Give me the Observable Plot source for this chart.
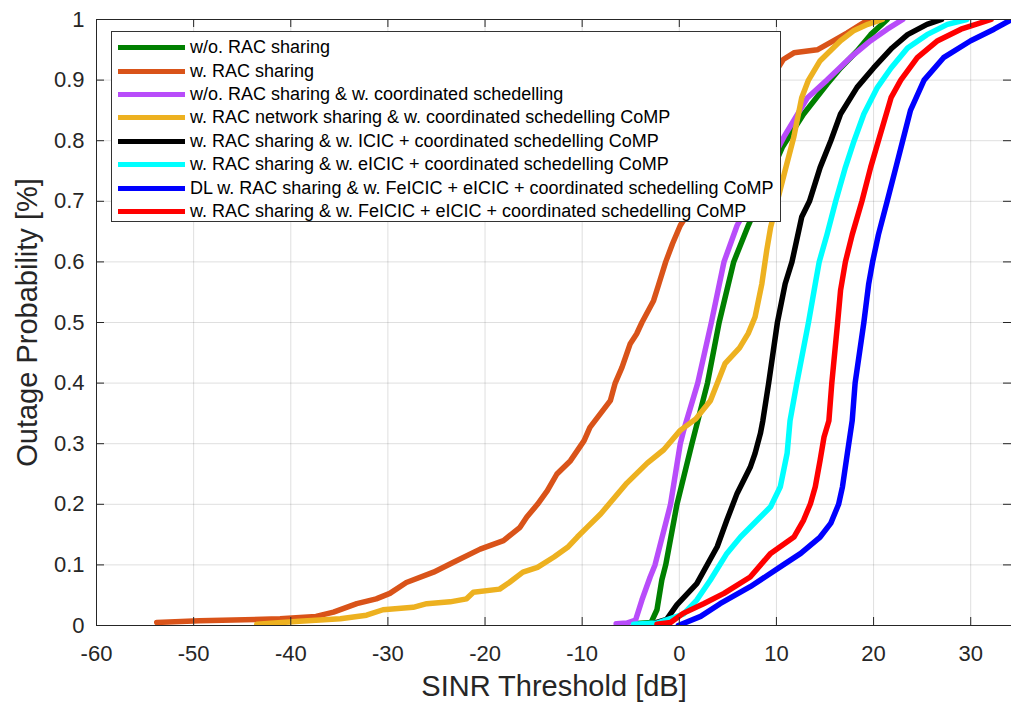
<!DOCTYPE html>
<html>
<head>
<meta charset="utf-8">
<script src="https://cdn.jsdelivr.net/npm/d3@7"></script>
<script src="https://cdn.jsdelivr.net/npm/@observablehq/plot@0.6"></script>
<style>
  html, body { margin: 0; padding: 0; background: #fff; }
  #wrap { position: relative; width: 1011px; height: 705px; overflow: hidden; font-family: "Liberation Sans", Arial, sans-serif; }
  #legend { position: absolute; left: 111px; top: 31px; width: 670px; height: 191px; background: #fff; border: 1px solid #333; box-sizing: border-box; padding-top: 4px; }
  .row { height: 23.4px; display: flex; align-items: center; white-space: nowrap; font-size: 18px; color: #000; }
  .swatch { width: 67px; height: 5px; margin-left: 6px; margin-right: 5px; flex: none; }
</style>
</head>
<body>
<div id="wrap"><div id="chart"></div><div id="legend"></div></div>
<script>
// ---- Data ----
const labels = [
  "w/o. RAC sharing",
  "w. RAC sharing",
  "w/o. RAC sharing & w. coordinated schedelling",
  "w. RAC network sharing & w. coordinated schedelling CoMP",
  "w. RAC sharing & w. ICIC + coordinated schedelling CoMP",
  "w. RAC sharing & w. eICIC + coordinated schedelling CoMP",
  "DL w. RAC sharing & w. FeICIC + eICIC + coordinated schedelling CoMP",
  "w. RAC sharing & w. FeICIC + eICIC + coordinated schedelling CoMP"
];
const colors = ["#008000", "#D95319", "#B84CFA", "#EDB120", "#000000", "#00FFFF", "#0000FF", "#FF0000"];

const xTicks = [-60, -50, -40, -30, -20, -10, 0, 10, 20, 30];
const yTicks = [0, 0.1, 0.2, 0.3, 0.4, 0.5, 0.6, 0.7, 0.8, 0.9, 1];

const xGreen = [-4.7, -2.9, -2.3, -1.8, -1.4, -0.24, 1.3, 1.65, 2.9, 4.1, 5.6, 7.1, 10.6, 12.8, 15.2, 16.6, 18.3, 19.7, 21.4];
const yGreen = [0.003, 0.005, 0.026, 0.075, 0.1, 0.2, 0.3, 0.322, 0.4, 0.5, 0.6, 0.66, 0.789, 0.844, 0.893, 0.92, 0.948, 0.975, 1.0];

const xOrange = [-53.8, -49.4, -41.1, -37.4, -35.6, -33.2, -31.2, -29.8, -28.1, -25.3, -23.3, -20.5, -18.1, -16.4, -15.7, -14.6, -13.6, -12.6, -11.2, -9.8, -9.2, -8.1, -7.1, -6.6, -5.9, -5.05, -4.4, -3.85, -2.65, -2.1, -1.4, -0.7, 0.1, 10.7, 11.8, 14.2, 15.9, 17.3, 19.5];
const yOrange = [0.005, 0.008, 0.011, 0.015, 0.022, 0.036, 0.044, 0.053, 0.071, 0.088, 0.104, 0.126, 0.14, 0.162, 0.179, 0.2, 0.222, 0.25, 0.272, 0.305, 0.327, 0.35, 0.371, 0.4, 0.426, 0.465, 0.481, 0.5, 0.536, 0.564, 0.6, 0.63, 0.66, 0.934, 0.945, 0.95, 0.965, 0.978, 1.0];

const xPurple = [-6.5, -5.4, -4.5, -3.85, -3.0, -2.5, -0.9, 0.1, 0.45, 1.9, 3.3, 4.6, 5.95, 10.8, 13.2, 15.2, 17.6, 19.7, 21.4, 23.0];
const yPurple = [0.003, 0.004, 0.009, 0.042, 0.08, 0.1, 0.2, 0.3, 0.322, 0.4, 0.5, 0.6, 0.66, 0.807, 0.871, 0.9, 0.937, 0.965, 0.984, 1.0];

const xYellow = [-43.5, -39.1, -34.9, -32.2, -30.5, -27.4, -26.0, -23.6, -21.9, -21.2, -18.5, -17.5, -16.1, -14.6, -12.9, -11.5, -10.5, -9.5, -8.1, -5.4, -3.3, -1.6, 0.1, 1.7, 3.2, 4.7, 6.2, 7.1, 7.8, 8.5, 9.0, 9.4, 10.8, 11.8, 12.6, 13.3, 14.5, 16.6, 18.0, 19.4, 20.9];
const yYellow = [0.002, 0.007, 0.011, 0.017, 0.026, 0.03, 0.036, 0.039, 0.044, 0.055, 0.06, 0.071, 0.088, 0.096, 0.113, 0.129, 0.146, 0.162, 0.184, 0.235, 0.268, 0.29, 0.322, 0.341, 0.371, 0.432, 0.458, 0.482, 0.509, 0.564, 0.619, 0.657, 0.745, 0.807, 0.871, 0.9, 0.932, 0.965, 0.982, 0.992, 1.0];

const xBlack = [-3.0, -1.3, -0.25, 1.8, 3.9, 4.9, 5.95, 7.3, 7.8, 8.35, 8.6, 9.2, 10.1, 10.9, 11.6, 12.6, 13.4, 14.5, 15.6, 16.6, 18.3, 20.0, 21.9, 23.5, 25.5, 27.0];
const yBlack = [0.002, 0.01, 0.034, 0.069, 0.13, 0.174, 0.218, 0.261, 0.284, 0.317, 0.338, 0.4, 0.5, 0.564, 0.6, 0.674, 0.7, 0.756, 0.8, 0.844, 0.888, 0.92, 0.953, 0.975, 0.992, 1.0];

const xCyan = [-4.7, -2.3, 0.45, 1.8, 3.2, 4.9, 6.3, 8.35, 9.4, 10.4, 11.1, 11.4, 12.1, 13.3, 14.0, 14.4, 15.2, 16.1, 17.1, 18.0, 19.0, 20.4, 21.8, 23.5, 25.5, 27.6, 29.6];
const yCyan = [0.002, 0.004, 0.019, 0.042, 0.075, 0.119, 0.146, 0.179, 0.196, 0.229, 0.284, 0.338, 0.4, 0.5, 0.564, 0.6, 0.645, 0.7, 0.756, 0.8, 0.844, 0.888, 0.92, 0.953, 0.975, 0.992, 1.0];

const xBlue = [-0.1, 2.2, 4.2, 7.3, 10.7, 12.5, 14.5, 15.6, 16.4, 16.8, 17.3, 17.8, 18.1, 19.0, 19.5, 19.9, 20.5, 21.4, 22.3, 23.0, 23.8, 25.2, 27.2, 30.0, 32.4, 34.2];
const yBlue = [0.0, 0.015, 0.036, 0.064, 0.1, 0.119, 0.146, 0.169, 0.2, 0.229, 0.284, 0.338, 0.4, 0.5, 0.564, 0.6, 0.645, 0.7, 0.756, 0.8, 0.85, 0.9, 0.937, 0.965, 0.984, 1.0];

const xRed = [-2.3, -0.9, 0.4, 2.5, 4.6, 7.3, 9.4, 11.8, 12.8, 13.5, 14.0, 14.5, 14.9, 15.4, 15.7, 16.3, 16.6, 17.1, 17.8, 18.8, 19.7, 20.5, 21.8, 22.8, 24.5, 26.6, 29.0, 32.1];
const yRed = [0.002, 0.005, 0.02, 0.036, 0.053, 0.08, 0.119, 0.146, 0.174, 0.201, 0.229, 0.273, 0.311, 0.338, 0.4, 0.5, 0.553, 0.6, 0.645, 0.7, 0.756, 0.8, 0.871, 0.9, 0.937, 0.965, 0.984, 1.0];

const seriesX = [xGreen, xOrange, xPurple, xYellow, xBlack, xCyan, xBlue, xRed];
const seriesY = [yGreen, yOrange, yPurple, yYellow, yBlack, yCyan, yBlue, yRed];

const xLabel = "SINR Threshold [dB]";
const yLabel = "Outage Probability [%]";

// ---- Chart ----
const W = 1011, H = 705;
const mL = 96, mR = 0, mT = 19, mB = 80;
const fw = W - mL - mR, fh = H - mT - mB;
const axisColor = "#262626";

const lineMarks = seriesX.map((xs, i) => {
  const data = xs.map((x, j) => ({x, y: seriesY[i][j]}));
  return Plot.line(data, {x: "x", y: "y", stroke: colors[i], strokeWidth: 5.5, strokeLinejoin: "round", strokeLinecap: "round", clip: true});
});

const chart = Plot.plot({
  width: W, height: H,
  marginLeft: mL, marginRight: mR, marginTop: mT, marginBottom: mB,
  style: {fontFamily: "'Liberation Sans', Arial, sans-serif", fontSize: "22px", color: axisColor, background: "#fff"},
  x: {domain: [-60, 34.2]},
  y: {domain: [0, 1]},
  marks: [
    Plot.gridX(xTicks, {stroke: axisColor, strokeOpacity: 0.15, strokeWidth: 1}),
    Plot.gridY(yTicks, {stroke: axisColor, strokeOpacity: 0.15, strokeWidth: 1}),
    ...lineMarks,
    Plot.frame({stroke: axisColor, strokeWidth: 1}),
    Plot.tickX(xTicks, {x: d => d, insetTop: fh - 8, stroke: axisColor}),
    Plot.tickX(xTicks, {x: d => d, insetBottom: fh - 8, stroke: axisColor}),
    Plot.tickY(yTicks, {y: d => d, insetRight: fw - 8, stroke: axisColor}),
    Plot.tickY(yTicks, {y: d => d, insetLeft: fw - 8, stroke: axisColor}),
    Plot.axisX(xTicks, {tickSize: 0, tickPadding: 20, fontSize: 22, label: null, tickFormat: d => String(d), fill: axisColor}),
    Plot.axisY(yTicks, {tickSize: 0, tickPadding: 12, fontSize: 22, label: null, tickFormat: d => String(d), fill: axisColor}),
    Plot.text([xLabel], {frameAnchor: "bottom", textAnchor: "middle", lineAnchor: "middle", dy: 61, fontSize: 29, fill: axisColor, text: d => d}),
    Plot.text([yLabel], {frameAnchor: "left", textAnchor: "middle", lineAnchor: "middle", dx: -69, rotate: -90, fontSize: 29, fill: axisColor, text: d => d})
  ]
});
document.getElementById("chart").appendChild(chart);

// ---- Legend (HTML overlay inside the axes) ----
const legend = document.getElementById("legend");
labels.forEach((lab, i) => {
  const row = document.createElement("div");
  row.className = "row";
  const sw = document.createElement("span");
  sw.className = "swatch";
  sw.style.background = colors[i];
  const tx = document.createElement("span");
  tx.textContent = lab;
  row.appendChild(sw);
  row.appendChild(tx);
  legend.appendChild(row);
});
</script>
</body>
</html>
